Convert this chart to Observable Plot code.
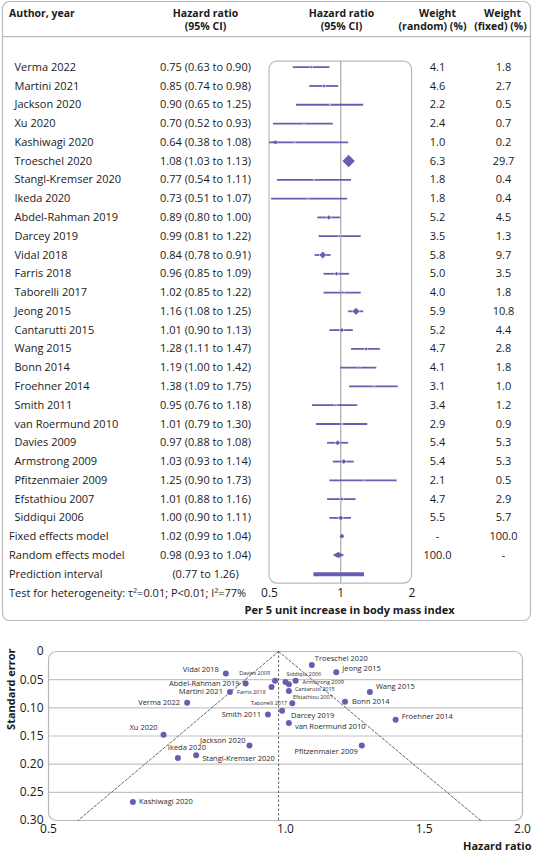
<!DOCTYPE html>
<html><head><meta charset="utf-8">
<script src="https://cdn.jsdelivr.net/npm/d3@7"></script>
<script src="https://cdn.jsdelivr.net/npm/@observablehq/plot@0.6"></script>
<style>
body{margin:0;background:#fff;font-family:"Open Sans",sans-serif;}
#chart{width:534px;}
#chart svg{display:block;}
</style></head><body><div id="chart"></div>
<script>
// ---------- data ----------
const authors = ["Verma 2022","Martini 2021","Jackson 2020","Xu 2020","Kashiwagi 2020","Troeschel 2020","Stangl-Kremser 2020","Ikeda 2020","Abdel-Rahman 2019","Darcey 2019","Vidal 2018","Farris 2018","Taborelli 2017","Jeong 2015","Cantarutti 2015","Wang 2015","Bonn 2014","Froehner 2014","Smith 2011","van Roermund 2010","Davies 2009","Armstrong 2009","Pfitzenmaier 2009","Efstathiou 2007","Siddiqui 2006"];
const hazardRatio = [0.75,0.85,0.90,0.70,0.64,1.08,0.77,0.73,0.89,0.99,0.84,0.96,1.02,1.16,1.01,1.28,1.19,1.38,0.95,1.01,0.97,1.03,1.25,1.01,1.00];
const ciLower = [0.63,0.74,0.65,0.52,0.38,1.03,0.54,0.51,0.80,0.81,0.78,0.85,0.85,1.08,0.90,1.11,1.00,1.09,0.76,0.79,0.88,0.93,0.90,0.88,0.90];
const ciUpper = [0.90,0.98,1.25,0.93,1.08,1.13,1.11,1.07,1.00,1.22,0.91,1.09,1.22,1.25,1.13,1.47,1.42,1.75,1.18,1.30,1.08,1.14,1.73,1.16,1.11];
const weightRandom = [4.1,4.6,2.2,2.4,1.0,6.3,1.8,1.8,5.2,3.5,5.8,5.0,4.0,5.9,5.2,4.7,4.1,3.1,3.4,2.9,5.4,5.4,2.1,4.7,5.5];
const weightFixed = [1.8,2.7,0.5,0.7,0.2,29.7,0.4,0.4,4.5,1.3,9.7,3.5,1.8,10.8,4.4,2.8,1.8,1.0,1.2,0.9,5.3,5.3,0.5,2.9,5.7];
const standardError = [0.091,0.072,0.167,0.148,0.267,0.024,0.184,0.189,0.057,0.105,0.039,0.063,0.092,0.037,0.058,0.072,0.089,0.121,0.112,0.127,0.052,0.052,0.167,0.070,0.054];

const summaryLabels = ["Fixed effects model","Random effects model","Prediction interval"];
const summaryHR = [1.02,0.98,null];
const summaryLower = [0.99,0.93,0.77];
const summaryUpper = [1.04,1.04,1.26];
const summaryWeightRandom = ["-","100.0",""];
const summaryWeightFixed = ["100.0","-",""];
const heterogeneityText = "Test for heterogeneity: τ²=0.01; P<0.01; I²=77%";
const forestAxisLabel = "Per 5 unit increase in body mass index";
const forestTicks = [0.5,1,2];

const funnelXTicks = [0.5,1.0,1.5,2.0];
const funnelYTicks = [0,0.05,0.10,0.15,0.20,0.25,0.30];
const funnelGrid = [0.05,0.10,0.15,0.20,0.25];
const pooledRandom = 0.98;
const funnelLeftEdge = [{hr:0.98,se:0},{hr:0.545,se:0.30}];
const funnelRightEdge = [{hr:0.98,se:0},{hr:1.77,se:0.30}];

// ---------- layout / styles ----------
const purple = "#6a5cb0";
const grey = "#b9b9b9";
const font = "'Open Sans', sans-serif";

const labelPlacement = {
  "Troeschel 2020": ["start", 3, -6, 7.5],
  "Jeong 2015": ["start", 6, -4, 7.5],
  "Vidal 2018": ["end", -7, -4, 7.5],
  "Davies 2009": ["end", -5, -8, 5.5],
  "Siddiqui 2006": ["start", 1, -8, 5.5],
  "Abdel-Rahman 2019": ["end", -6, 0, 7.5],
  "Armstrong 2009": ["start", 7, 1, 5.5],
  "Cantarutti 2015": ["start", 6, 5, 5.5],
  "Wang 2015": ["start", 6, -5, 7.5],
  "Martini 2021": ["end", -7, 0, 7.5],
  "Farris 2018": ["end", -6, 5, 5.5],
  "Efstathiou 2007": ["start", 4, 6, 5.5],
  "Verma 2022": ["end", -7, 0, 7.5],
  "Taborelli 2017": ["end", -5, 0, 5.5],
  "Bonn 2014": ["start", 7, 0, 7.5],
  "Smith 2011": ["end", -7, 0, 7.5],
  "Darcey 2019": ["start", 9, 5, 7.5],
  "Froehner 2014": ["start", 6, -3, 7.5],
  "van Roermund 2010": ["start", 6, 4, 7.5],
  "Xu 2020": ["end", -6, -7, 7.5],
  "Jackson 2020": ["end", -4, -5, 7.5],
  "Ikeda 2020": ["middle", 9, -10, 7.5],
  "Stangl-Kremser 2020": ["start", 6, 3, 7.5],
  "Pfitzenmaier 2009": ["end", -4, 6, 7.5],
  "Kashiwagi 2020": ["start", 6, 0, 7.5]
};

const fmt = v => v.toFixed(2);
const rows = authors.map((author, i) => ({
  row: i, author, hr: hazardRatio[i], lo: ciLower[i], hi: ciUpper[i],
  wr: weightRandom[i].toFixed(1), wf: weightFixed[i], wfText: weightFixed[i].toFixed(1), se: standardError[i],
  ci: `${fmt(hazardRatio[i])} (${fmt(ciLower[i])} to ${fmt(ciUpper[i])})`
}));
const n = rows.length;
const summaries = summaryLabels.map((label, j) => ({
  row: n + j, label, hr: summaryHR[j], lo: summaryLower[j], hi: summaryUpper[j],
  wr: summaryWeightRandom[j], wf: summaryWeightFixed[j],
  ci: summaryHR[j] == null ? `(${fmt(summaryLower[j])} to ${fmt(summaryUpper[j])})` : `${fmt(summaryHR[j])} (${fmt(summaryLower[j])} to ${fmt(summaryUpper[j])})`
}));
const xMin = forestTicks[0], xMax = forestTicks[forestTicks.length - 1];

const diamondSymbol = {draw(ctx, size) { const r = Math.sqrt(size / 2); ctx.moveTo(0, -r); ctx.lineTo(r, 0); ctx.lineTo(0, r); ctx.lineTo(-r, 0); ctx.closePath(); }};
const leftArrow = {draw(ctx, size) { const s = Math.sqrt(size) * 0.6; ctx.moveTo(-s, 0); ctx.lineTo(s * 0.8, -s * 0.62); ctx.lineTo(s * 0.8, s * 0.62); ctx.closePath(); }};

// summary diamond polygons (fixed, random)
const halfH = [0.13, 0.16];
const summaryDiamonds = summaries.filter(d => d.hr != null).flatMap((d, j) => [
  {k: j, x: d.lo, y1: d.row, y2: d.row},
  {k: j, x: d.hr, y1: d.row - halfH[j], y2: d.row + halfH[j]},
  {k: j, x: d.hi, y1: d.row, y2: d.row}
]);
const prediction = summaries.filter(d => d.hr == null);

// header cells: [text, x offset, anchor, line]
const headerLine1 = -2.86, headerLine2 = -2.17;
const headers = [
  {text: "Author, year", dx: 8.5, anchor: "start", y: headerLine1},
  {text: "Hazard ratio", dx: 205, anchor: "middle", y: headerLine1},
  {text: "(95% CI)", dx: 205, anchor: "middle", y: headerLine2},
  {text: "Hazard ratio", dx: 341, anchor: "middle", y: headerLine1},
  {text: "(95% CI)", dx: 341, anchor: "middle", y: headerLine2},
  {text: "Weight", dx: 437, anchor: "middle", y: headerLine1},
  {text: "(random) (%)", dx: 432, anchor: "middle", y: headerLine2},
  {text: "Weight", dx: 502, anchor: "middle", y: headerLine1},
  {text: "(fixed) (%)", dx: 500, anchor: "middle", y: headerLine2}
];

const forest = Plot.plot({
  width: 534, height: 622,
  marginTop: 0, marginBottom: 0, marginLeft: 0, marginRight: 0,
  x: {type: "log", domain: [xMin, xMax], range: [269, 411.5], axis: null},
  y: {domain: [0, 28], range: [66.7, 592.5], axis: null},
  r: {type: "sqrt", domain: [0, 29.7], range: [0, 5.2]},
  style: {fontFamily: font, fontSize: "11px", color: "#1a1a1a", background: "white"},
  marks: [
    Plot.frame({rx: 7, stroke: grey, strokeWidth: 1.2, insetLeft: 2, insetRight: 4, insetTop: 1, insetBottom: 2}),
    Plot.ruleY([-1.63], {stroke: grey, strokeWidth: 1.2, insetLeft: 2, insetRight: 4}),
    Plot.rect([0], {x1: () => xMin, x2: () => xMax, y1: () => -0.3, y2: () => 27.5, rx: 8, fill: "none", stroke: grey, strokeWidth: 1.2}),
    Plot.ruleX([1], {y1: () => -0.3, y2: () => 27.5, stroke: "#a9a9a9", strokeWidth: 1.2}),
    Plot.ruleY(rows, {y: "row", x1: d => Math.max(d.lo, xMin), x2: "hi", stroke: purple, strokeWidth: 1.8}),
    Plot.dot(rows.filter(d => d.lo < xMin), {x: () => xMin, y: "row", symbol: leftArrow, r: 3, fill: purple, dx: 4.5}),
    Plot.dot(rows, {x: "hr", y: "row", r: "wf", symbol: diamondSymbol, fill: purple, stroke: "white", strokeWidth: 0.6}),
    Plot.areaY(summaryDiamonds, {x: "x", y1: "y1", y2: "y2", z: "k", fill: purple}),
    Plot.ruleY(prediction, {y: "row", x1: "lo", x2: "hi", stroke: purple, strokeWidth: 4}),
    // table text
    Plot.text(rows, {y: "row", text: "author", frameAnchor: "left", dx: 14, textAnchor: "start"}),
    Plot.text(summaries, {y: "row", text: "label", frameAnchor: "left", dx: 8.5, textAnchor: "start"}),
    Plot.text([...rows, ...summaries], {y: "row", text: "ci", frameAnchor: "left", dx: 205, textAnchor: "middle"}),
    Plot.text([...rows, ...summaries], {y: "row", text: "wr", frameAnchor: "left", dx: 437, textAnchor: "middle"}),
    Plot.text(rows, {y: "row", text: "wfText", frameAnchor: "left", dx: 503, textAnchor: "middle"}),
    Plot.text(summaries, {y: "row", text: "wf", frameAnchor: "left", dx: 503, textAnchor: "middle"}),
    ...headers.map(h => Plot.text([h], {y: "y", text: "text", frameAnchor: "left", dx: h.dx, textAnchor: h.anchor, fontWeight: "bold", fontSize: 10.5})),
    Plot.text([heterogeneityText], {y: () => 28, text: d => d, frameAnchor: "left", dx: 8.5, textAnchor: "start"}),
    Plot.text(forestTicks, {x: d => d, y: () => 28, text: d => String(d), fontSize: 12}),
    Plot.text([forestAxisLabel], {y: () => 28.95, text: d => d, frameAnchor: "left", dx: 349, textAnchor: "middle", fontWeight: "bold"})
  ]
});

const funnel = Plot.plot({
  width: 534, height: 231,
  marginTop: 29, marginBottom: 33, marginLeft: 48, marginRight: 12,
  x: {type: "log", domain: [0.5, 2], ticks: funnelXTicks, tickFormat: d => d.toFixed(1), tickSize: 0, tickPadding: 4, label: null},
  y: {domain: [0, 0.3], reverse: true, ticks: funnelYTicks, tickFormat: d => d === 0 ? "0" : d.toFixed(2), tickSize: 0, tickPadding: 5, label: null},
  style: {fontFamily: font, fontSize: "12px", color: "#1a1a1a", background: "white"},
  marks: [
    Plot.ruleY(funnelGrid, {stroke: "#c4c4c4", strokeWidth: 1.2}),
    Plot.frame({rx: 8, stroke: grey, strokeWidth: 1.2}),
    Plot.line(funnelLeftEdge, {x: "hr", y: "se", stroke: "#555", strokeWidth: 0.9, strokeDasharray: "2.5,2"}),
    Plot.line(funnelRightEdge, {x: "hr", y: "se", stroke: "#555", strokeWidth: 0.9, strokeDasharray: "2.5,2"}),
    Plot.ruleX([pooledRandom], {y1: () => 0, y2: () => 0.3, stroke: "#555", strokeWidth: 0.9, strokeDasharray: "2.5,2"}),
    Plot.dot(rows, {x: "hr", y: "se", r: 3, fill: purple}),
    ...rows.map(d => {
      const [anchor, dx, dy, size] = labelPlacement[d.author];
      return Plot.text([d], {x: "hr", y: "se", text: "author", textAnchor: anchor, dx, dy, fontSize: size, fill: "#2a2a2a"});
    }),
    Plot.text(["Standard error"], {frameAnchor: "top-left", text: d => d, rotate: -90, textAnchor: "end", dx: -41.5, dy: -3, fontWeight: "bold", fontSize: 11}),
    Plot.text(["Hazard ratio"], {frameAnchor: "bottom-right", text: d => d, textAnchor: "end", dx: 9, dy: 29, fontWeight: "bold", fontSize: 11})
  ]
});

const chart = document.getElementById("chart");
chart.append(forest, funnel);
</script></body></html>
